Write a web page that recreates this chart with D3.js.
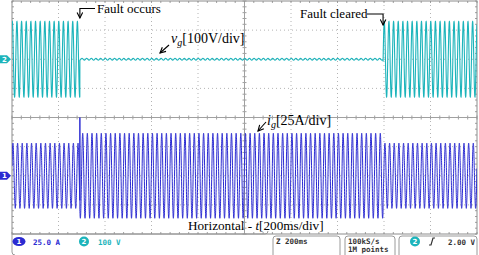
<!DOCTYPE html>
<html>
<head>
<meta charset="utf-8">
<script src="https://cdn.jsdelivr.net/npm/d3@7"></script>
<style>
body{margin:0;background:#fff}
svg{display:block}
</style>
</head>
<body>
<div id="scope"></div>
<script>
// time segments in ms: before fault, during fault, after clearing
var segStart = [0, 292, 1596];
var segEnd = [292, 1596, 2000];
var vgPeak = [130, 3, 130];     // grid voltage peak, V
var igPeak = [28, 36.5, 28];    // grid current peak, A
var spikeTime = [292];          // current transient at fault onset
var spikeValue = [50];
var lineFreq = 50;              // Hz
var vgPerDiv = 100, igPerDiv = 25;
var vgPos = 2, igPos = -2;      // channel offset in divisions

var chLabels = ["25.0 A", "100 V"];
var timeLabel = "Z 200ms";
var rateLabels = ["100kS/s", "1M points"];
var trigLabel = "2.00 V";

var width = 479, height = 255;
var X0 = 12, X1 = 477, Y0 = 1, Y1 = 234;
var cyan = "#1cb4bb", blue = "#2b2bd2";

var svg = d3.select("#scope").append("svg")
	.attr("width", width)
	.attr("height", height)
	.style("font-family", "'Liberation Serif','Times New Roman',serif");

var x = d3.scaleLinear().domain([0, 2000]).range([X0, X1]);
var y = d3.scaleLinear().domain([-4, 4]).range([Y1, Y0]);

// graticule
var g = svg.append("g");
d3.range(1, 10).forEach(function(i) {
	if (i == 5) return;
	g.append("line").attr("x1", x(i*200)).attr("x2", x(i*200)).attr("y1", Y0).attr("y2", Y1)
		.attr("stroke", "#b4b4b4").attr("stroke-dasharray", "1,3");
});
d3.range(-3, 4).forEach(function(i) {
	if (i == 0) return;
	g.append("line").attr("x1", X0).attr("x2", X1).attr("y1", y(i)).attr("y2", y(i))
		.attr("stroke", "#b4b4b4").attr("stroke-dasharray", "1,3");
});
g.append("line").attr("x1", X0).attr("x2", X1).attr("y1", y(0)).attr("y2", y(0)).attr("stroke", "#a0a0a0");
g.append("line").attr("x1", x(1000)).attr("x2", x(1000)).attr("y1", Y0).attr("y2", Y1).attr("stroke", "#a0a0a0");
// minor ticks on centre lines and edges
d3.range(0, 2001, 40).forEach(function(t) {
	g.append("line").attr("x1", x(t)).attr("x2", x(t)).attr("y1", y(0)-2).attr("y2", y(0)+2).attr("stroke", "#a0a0a0");
	g.append("line").attr("x1", x(t)).attr("x2", x(t)).attr("y1", Y1-2).attr("y2", Y1).attr("stroke", "#a0a0a0");
	g.append("line").attr("x1", x(t)).attr("x2", x(t)).attr("y1", Y0).attr("y2", Y0+2).attr("stroke", "#a0a0a0");
});
d3.range(-4, 4.01, 0.2).forEach(function(d) {
	g.append("line").attr("x1", x(1000)-2).attr("x2", x(1000)+2).attr("y1", y(d)).attr("y2", y(d)).attr("stroke", "#a0a0a0");
	g.append("line").attr("x1", X0).attr("x2", X0+2).attr("y1", y(d)).attr("y2", y(d)).attr("stroke", "#a0a0a0");
	g.append("line").attr("x1", X1-2).attr("x2", X1).attr("y1", y(d)).attr("y2", y(d)).attr("stroke", "#a0a0a0");
});
g.append("rect").attr("x", X0).attr("y", Y0).attr("width", X1-X0).attr("height", Y1-Y0)
	.attr("fill", "none").attr("stroke", "#8c8c8c");

svg.append("clipPath").attr("id", "clip").append("rect")
	.attr("x", X0).attr("y", Y0).attr("width", X1-X0).attr("height", Y1-Y0);

function buildTrace(peaks, phase, spikes) {
	var pts = [];
	for (var s = 0; s < segStart.length; s++) {
		for (var t = segStart[s]; t < segEnd[s]; t += 0.25) {
			pts.push([t, peaks[s]*Math.sin(2*Math.PI*lineFreq*t/1000 + phase)]);
		}
	}
	if (spikes) {
		spikeTime.forEach(function(st, k) {
			var i = d3.bisector(function(d) { return d[0]; }).left(pts, st);
			pts.splice(i, 0, [st, spikeValue[k]]);
		});
	}
	pts.push([2000, pts[pts.length-1][1]]);
	return pts;
}

var vgLine = d3.line()
	.x(function(d) { return x(d[0]); })
	.y(function(d) { return y(d[1]/vgPerDiv + vgPos); });
var igLine = d3.line()
	.x(function(d) { return x(d[0]); })
	.y(function(d) { return y(d[1]/igPerDiv + igPos); });

svg.append("path").datum(buildTrace(vgPeak, 1.2, false))
	.attr("clip-path", "url(#clip)")
	.attr("d", vgLine).attr("fill", "none").attr("stroke", cyan).attr("stroke-width", 1.1);
svg.append("path").datum(buildTrace(igPeak, 0.3, true))
	.attr("clip-path", "url(#clip)")
	.attr("d", igLine).attr("fill", "none").attr("stroke", blue).attr("stroke-width", 1);

// channel markers
function marker(cy, col, label) {
	svg.append("path").attr("d", "M0," + (cy-4) + "H7L11," + cy + "L7," + (cy+4) + "H0Z").attr("fill", col);
	svg.append("text").attr("x", 4.5).attr("y", cy+2.5).attr("text-anchor", "middle")
		.style("font", "bold 7px 'DejaVu Sans'").attr("fill", "#fff").text(label);
}
marker(y(vgPos), cyan, "2");
marker(y(igPos), blue, "1");

// annotations
var arrowDefs = svg.append("defs");
arrowDefs.append("marker").attr("id", "ah").attr("viewBox", "0 0 10 10")
	.attr("refX", 9).attr("refY", 5).attr("markerWidth", 7).attr("markerHeight", 7)
	.attr("markerUnits", "userSpaceOnUse")
	.attr("orient", "auto-start-reverse")
	.append("path").attr("d", "M1,1L9,5L1,9").attr("fill", "none").attr("stroke", "#000").attr("stroke-width", 1.6);

function arrow(d) {
	svg.append("path").attr("d", d).attr("fill", "none").attr("stroke", "#000")
		.attr("stroke-width", 1.1).attr("marker-end", "url(#ah)");
}

svg.append("text").attr("x", 97).attr("y", 13).style("font-size", "13px").text("Fault occurs");
arrow("M95,8.5H" + x(segStart[1]) + "V18");
svg.append("text").attr("x", 300).attr("y", 18).style("font-size", "13px").text("Fault cleared");
arrow("M367,14H" + x(segStart[2]) + "V25");

var vgt = svg.append("text").attr("x", 171).attr("y", 43).style("font-size", "14px");
vgt.append("tspan").style("font-style", "italic").text("v");
vgt.append("tspan").style("font-style", "italic").style("font-size", "10px").attr("dy", 3).text("g");
vgt.append("tspan").attr("dy", -3).text("[" + vgPerDiv + "V/div]");
arrow("M169,45L160,53");

var igt = svg.append("text").attr("x", 267).attr("y", 125).style("font-size", "14px");
igt.append("tspan").style("font-style", "italic").text("i");
igt.append("tspan").style("font-style", "italic").style("font-size", "10px").attr("dy", 3).text("g");
igt.append("tspan").attr("dy", -3).text("[" + igPerDiv + "A/div]");
arrow("M266,122L258,131");

var ht = svg.append("text").attr("x", 188).attr("y", 230).style("font-size", "13.2px");
ht.append("tspan").text("Horizontal - ");
ht.append("tspan").style("font-style", "italic").text("t");
ht.append("tspan").text("[200ms/div]");

// status bar
var mono = "bold 7.5px 'DejaVu Sans Mono'";
function box(x0, x1) {
	svg.append("rect").attr("x", x0).attr("y", 236).attr("width", x1-x0).attr("height", 24)
		.attr("rx", 3).attr("fill", "none").attr("stroke", "#9a9a9a");
}
svg.append("path").attr("d", "M" + X0 + ",234V252Q" + X0 + ",255 " + (X0+3) + ",255").attr("fill", "none").attr("stroke", "#9a9a9a");
svg.append("path").attr("d", "M" + X0 + ",234H265Q268,234 268,231").attr("fill", "none").attr("stroke", "#9a9a9a");
box(273, 340);
box(345, 395);
box(399, 477);

svg.append("ellipse").attr("cx", 19).attr("cy", 241.5).attr("rx", 6.5).attr("ry", 4.5).attr("fill", blue);
svg.append("text").attr("x", 19).attr("y", 244).attr("text-anchor", "middle").style("font", "bold 7px 'DejaVu Sans'").attr("fill", "#fff").text("1");
svg.append("text").attr("x", 33).attr("y", 244.5).style("font", mono).attr("fill", blue).text(chLabels[0]);
svg.append("circle").attr("cx", 84).attr("cy", 241.5).attr("r", 5).attr("fill", cyan);
svg.append("text").attr("x", 84).attr("y", 244).attr("text-anchor", "middle").style("font", "bold 7px 'DejaVu Sans'").attr("fill", "#fff").text("2");
svg.append("text").attr("x", 98).attr("y", 244.5).style("font", mono).attr("fill", cyan).text(chLabels[1]);

svg.append("text").attr("x", 276).attr("y", 243.5).style("font", mono).attr("fill", "#333").text(timeLabel);
svg.append("text").attr("x", 348).attr("y", 243.5).style("font", mono).attr("fill", "#333").text(rateLabels[0]);
svg.append("text").attr("x", 348).attr("y", 252).style("font", mono).attr("fill", "#333").text(rateLabels[1]);

svg.append("circle").attr("cx", 415).attr("cy", 241.5).attr("r", 5).attr("fill", cyan);
svg.append("text").attr("x", 415).attr("y", 244).attr("text-anchor", "middle").style("font", "bold 7px 'DejaVu Sans'").attr("fill", "#fff").text("2");
svg.append("path").attr("d", "M429,245H431L433,238H435").attr("fill", "none").attr("stroke", "#333").attr("stroke-width", 1.2);
svg.append("text").attr("x", 475).attr("y", 244.5).attr("text-anchor", "end").style("font", mono).attr("fill", "#333").text(trigLabel);
</script>
</body>
</html>
